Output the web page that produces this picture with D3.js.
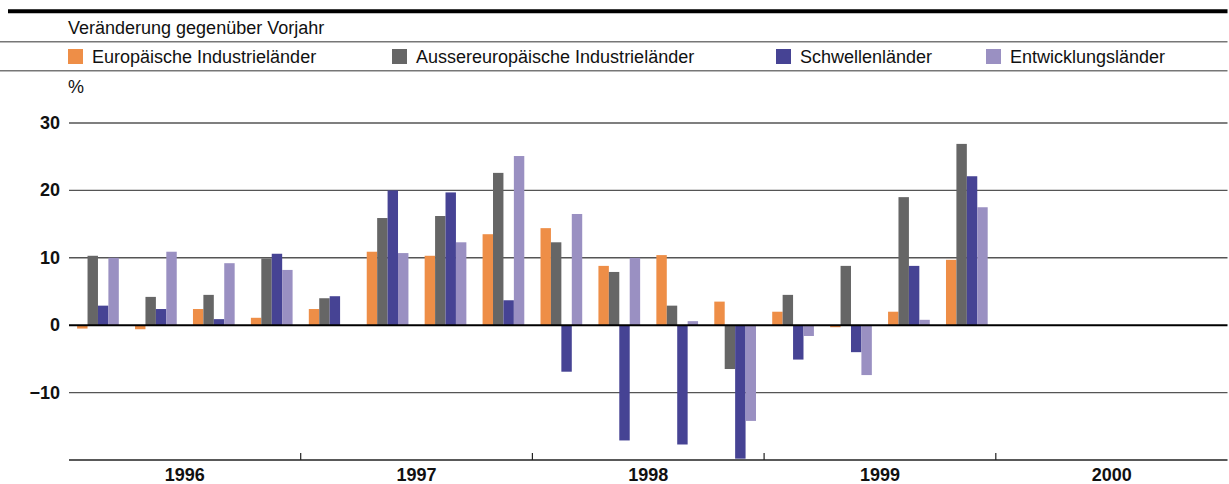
<!DOCTYPE html>
<html lang="de">
<head>
    <meta charset="UTF-8"/>
    <title>Veränderung gegenüber Vorjahr</title>
    <script src="https://d3js.org/d3.v7.min.js"></script>
    <style>
        body { margin: 0; background: #fff; }
        svg { display: block; font-family: "Liberation Sans", Arial, sans-serif; }
    </style>
</head>
<body>
    <script>
        // data
        var years = ["1996", "1997", "1998", "1999", "2000"];
        var quarters = ["Q1", "Q2", "Q3", "Q4"];
        var seriesNames = ["Europäische Industrieländer", "Aussereuropäische Industrieländer",
                           "Schwellenländer", "Entwicklungsländer"];
        // quarterly values 1996 Q1 .. 1999 Q4 (2000 has no data)
        var europa    = [-0.5, -0.6, 2.4, 1.1,   2.4, 10.9, 10.3, 13.5,  14.4, 8.8, 10.4, 3.5,   2.0, -0.3, 2.0, 9.7];
        var aussereur = [10.3, 4.2, 4.5, 9.9,    4.0, 15.9, 16.2, 22.6,  12.3, 7.9, 2.9, -6.5,   4.5, 8.8, 19.0, 26.9];
        var schwellen = [2.9, 2.4, 0.9, 10.6,    4.3, 20.0, 19.7, 3.7,   -6.9, -17.1, -17.7, -19.8,  -5.1, -4.0, 8.8, 22.1];
        var entwickl  = [10.0, 10.9, 9.2, 8.2,   null, 10.7, 12.3, 25.1,  16.5, 10.0, 0.6, -14.2,  -1.6, -7.4, 0.8, 17.5];
        var yTicks = [-10, 0, 10, 20, 30];

        var seriesValues = [europa, aussereur, schwellen, entwickl];
        var colors = ["#ee8e47", "#666666", "#464394", "#9a90c2"];
        var legendX = [68, 392, 776, 986];

        var w = 1229, h = 484;
        var plotLeft = 69, plotRight = 1227.5, plotTop = 123, plotBottom = 460;

        var svg = d3.select("body").append("svg")
            .attr("width", w)
            .attr("height", h);

        // header rules
        svg.append("line")
            .attr("x1", 8).attr("x2", plotRight).attr("y1", 11.3).attr("y2", 11.3)
            .attr("stroke", "#000").attr("stroke-width", 4);
        svg.append("line")
            .attr("x1", 0).attr("x2", plotRight).attr("y1", 41.7).attr("y2", 41.7)
            .attr("stroke", "#777").attr("stroke-width", 1.6);
        svg.append("line")
            .attr("x1", 0).attr("x2", plotRight).attr("y1", 70.7).attr("y2", 70.7)
            .attr("stroke", "#777").attr("stroke-width", 1.6);

        svg.append("text")
            .attr("x", 68).attr("y", 34)
            .attr("font-size", "18px").attr("fill", "#111")
            .text("Veränderung gegenüber Vorjahr");

        // legend
        var legend = svg.selectAll(".legend")
            .data(seriesNames)
            .enter().append("g")
            .attr("class", "legend")
            .attr("transform", function(d, i) { return "translate(" + legendX[i] + ",0)"; });
        legend.append("rect")
            .attr("x", 0).attr("y", 49)
            .attr("width", 15).attr("height", 15)
            .attr("fill", function(d, i) { return colors[i]; });
        legend.append("text")
            .attr("x", 24).attr("y", 63)
            .attr("font-size", "18px").attr("fill", "#111")
            .text(function(d) { return d; });

        svg.append("text")
            .attr("x", 68).attr("y", 93)
            .attr("font-size", "18px").attr("fill", "#111")
            .text("%");

        // scales
        var keys = [];
        years.forEach(function(y) {
            quarters.forEach(function(q) { keys.push(y + " " + q); });
        });

        var x0 = d3.scaleBand()
            .domain(keys)
            .range([plotLeft, plotRight])
            .paddingInner(0.28)
            .paddingOuter(0.14);

        var x1 = d3.scaleBand()
            .domain(d3.range(seriesNames.length))
            .range([0, x0.bandwidth()]);

        var xYear = d3.scaleBand()
            .domain(years)
            .range([plotLeft, plotRight]);

        var yScale = d3.scaleLinear()
            .domain([-20, 30])
            .range([plotBottom, plotTop]);

        // gridlines
        svg.append("g")
            .selectAll("line")
            .data(yTicks.filter(function(t) { return t !== 0; }))
            .enter().append("line")
            .attr("x1", plotLeft).attr("x2", plotRight)
            .attr("y1", function(d) { return yScale(d); })
            .attr("y2", function(d) { return yScale(d); })
            .attr("stroke", function(d) { return d === 30 ? "#000" : "#555"; })
            .attr("stroke-width", function(d) { return d === 30 ? 1.2 : 1.4; });

        // y labels
        svg.append("g")
            .selectAll("text")
            .data(yTicks)
            .enter().append("text")
            .attr("x", 60)
            .attr("y", function(d) { return yScale(d) + 6; })
            .attr("text-anchor", "end")
            .attr("font-size", "18px")
            .attr("font-weight", "bold")
            .attr("fill", "#111")
            .text(function(d) { return d < 0 ? "\u2212" + Math.abs(d) : d; });

        // bars
        var groups = svg.append("g")
            .selectAll("g")
            .data(keys.slice(0, europa.length))
            .enter().append("g")
            .attr("transform", function(d) { return "translate(" + x0(d) + ",0)"; });

        groups.selectAll("rect")
            .data(function(d, qi) {
                return seriesValues.map(function(s, si) { return { s: si, v: s[qi] }; })
                    .filter(function(e) { return e.v !== null; });
            })
            .enter().append("rect")
            .attr("x", function(d) { return x1(d.s); })
            .attr("width", x1.bandwidth())
            .attr("y", function(d) { return yScale(Math.max(0, d.v)); })
            .attr("height", function(d) { return Math.abs(yScale(d.v) - yScale(0)); })
            .attr("fill", function(d) { return colors[d.s]; });

        // zero line
        svg.append("line")
            .attr("x1", plotLeft).attr("x2", plotRight)
            .attr("y1", yScale(0)).attr("y2", yScale(0))
            .attr("stroke", "#000").attr("stroke-width", 2);

        // x axis
        var xAxis = svg.append("g")
            .attr("transform", "translate(0," + plotBottom + ")");
        xAxis.append("line")
            .attr("x1", plotLeft).attr("x2", plotRight)
            .attr("stroke", "#222").attr("stroke-width", 1.5);
        xAxis.selectAll(".tick")
            .data(years.slice(1))
            .enter().append("line")
            .attr("class", "tick")
            .attr("x1", function(d) { return xYear(d); })
            .attr("x2", function(d) { return xYear(d); })
            .attr("y1", -7).attr("y2", 0)
            .attr("stroke", "#222").attr("stroke-width", 1.2);
        xAxis.selectAll(".yl")
            .data(years)
            .enter().append("text")
            .attr("class", "yl")
            .attr("x", function(d) { return xYear(d) + xYear.bandwidth() / 2; })
            .attr("y", 20.5)
            .attr("text-anchor", "middle")
            .attr("font-size", "18px")
            .attr("font-weight", "bold")
            .attr("fill", "#111")
            .text(function(d) { return d; });
    </script>
</body>
</html>
